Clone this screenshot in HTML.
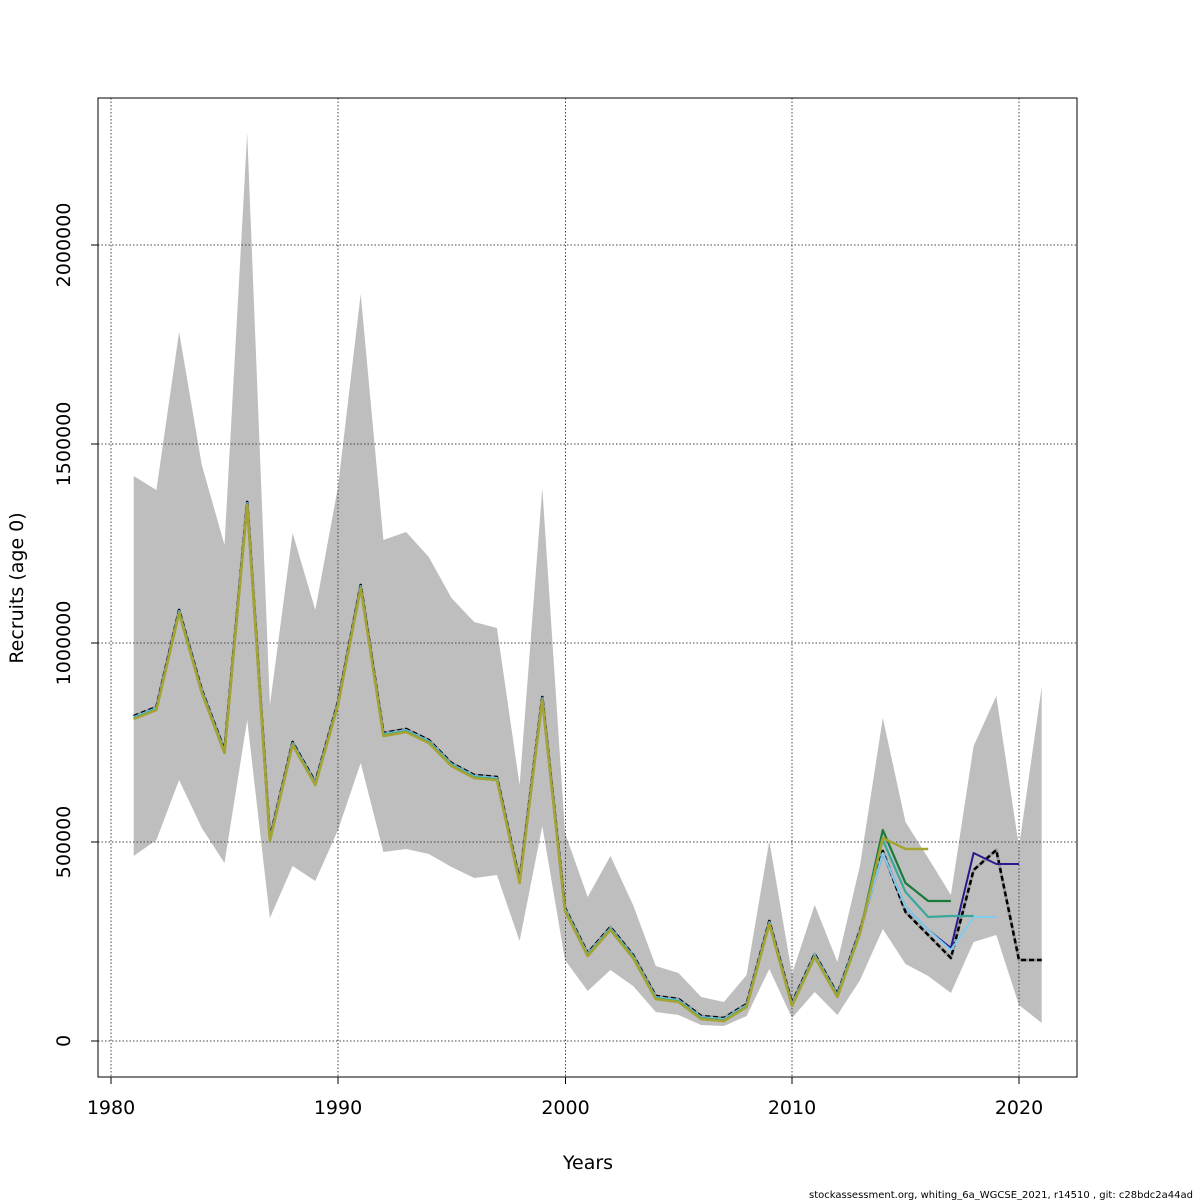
<!DOCTYPE html>
<html><head><meta charset="utf-8"><style>body{margin:0;background:#fff}svg{display:block}text{font-family:"DejaVu Sans","Liberation Sans",sans-serif}</style></head>
<body>
<svg id="s" width="1200" height="1200" xmlns="http://www.w3.org/2000/svg">
<rect width="1200" height="1200" fill="#fff"/>
<g id="band"></g>
<g stroke="#444" stroke-width="1" stroke-dasharray="1.5,2">
<line x1="111" y1="98" x2="111" y2="1077"/><line x1="338" y1="98" x2="338" y2="1077"/><line x1="565.5" y1="98" x2="565.5" y2="1077"/><line x1="792" y1="98" x2="792" y2="1077"/><line x1="1019" y1="98" x2="1019" y2="1077"/>
<line x1="98" y1="1041" x2="1077" y2="1041"/><line x1="98" y1="842" x2="1077" y2="842"/><line x1="98" y1="643" x2="1077" y2="643"/><line x1="98" y1="444" x2="1077" y2="444"/><line x1="98" y1="245" x2="1077" y2="245"/>
</g>
<g id="lines" fill="none" stroke-linejoin="round"></g>
<rect x="98" y="98" width="979" height="979" fill="none" stroke="#000"/>
<g stroke="#000">
<line x1="111" y1="1077" x2="111" y2="1084"/><line x1="338" y1="1077" x2="338" y2="1084"/><line x1="565.5" y1="1077" x2="565.5" y2="1084"/><line x1="792" y1="1077" x2="792" y2="1084"/><line x1="1019" y1="1077" x2="1019" y2="1084"/>
<line x1="98" y1="1041" x2="91" y2="1041"/><line x1="98" y1="842" x2="91" y2="842"/><line x1="98" y1="643" x2="91" y2="643"/><line x1="98" y1="444" x2="91" y2="444"/><line x1="98" y1="245" x2="91" y2="245"/>
</g>
<g font-size="19" text-anchor="middle">
<text x="111" y="1114">1980</text><text x="338" y="1114">1990</text><text x="565.5" y="1114">2000</text><text x="792" y="1114">2010</text><text x="1019" y="1114">2020</text>
<text transform="translate(70,1041) rotate(-90)">0</text>
<text transform="translate(70,842) rotate(-90)">500000</text>
<text transform="translate(70,643) rotate(-90)">1000000</text>
<text transform="translate(70,444) rotate(-90)">1500000</text>
<text transform="translate(70,245) rotate(-90)">2000000</text>
<text x="588" y="1169">Years</text>
<text transform="translate(23,588) rotate(-90)">Recruits (age 0)</text>
</g>
<text x="1193" y="1198" font-size="10" text-anchor="end">stockassessment.org, whiting_6a_WGCSE_2021, r14510 , git: c28bdc2a44ad</text>
</svg>
<script>
var X=function(y){return 111+(y-1980)*22.7};
var up=[476,490,332,465,545,133,705,533,610,487,294,540,532,557,598,622,628,785,488,833,897,856,905,966,973,997,1002,975,841,974,905,962,865,718,822,858,895,746,696,847,687];
var lo=[856,840,780,828,863,720,918,866,881,830,763,852,849,854,867,878,875,941,826,960,991,970,986,1012,1015,1025,1026,1016,969,1018,992,1015,980,929,964,976,993,942,935,1005,1023];
var p="";for(var i=0;i<41;i++)p+=(i?"L":"M")+X(1981+i)+","+up[i];
for(var i=40;i>=0;i--)p+="L"+X(1981+i)+","+lo[i];
document.getElementById("band").innerHTML='<path d="'+p+'Z" fill="#bebebe"/>';
var base=[716,707,610,690,750,502,838,742,782,702,585,733,729,740,763,775,777,880,697,908,953,927,955,996,999,1016,1018,1004,921,1003,954,994,930,851,912,935,958,870,850,960,960];
function path(arr,end){var s="";for(var i=0;i<arr.length&&1981+i<=end;i++)s+=(i?"L":"M")+X(1981+i)+","+arr[i];return s}
function mod(ov,off){var a=base.map(function(v,i){return v+(i<33?off:0)});for(var k in ov)a[k-1981]=ov[k];return a}
var L=[
["#2b1a8c",mod({2014:853,2015:907,2016:930,2017:948,2018:853,2019:864,2020:864},1),2020,2],
["#7fcdee",mod({2014:853,2015:907,2016:930,2017:950,2018:917,2019:917},1),2019,2],
["#3aa89a",mod({2014:840,2015:892,2016:917,2017:916,2018:916},2),2018,2.2],
["#1a7a3a",mod({2014:830,2015:883,2016:901,2017:901},3),2017,2.2],
["#a6a331",mod({2014:838,2015:849,2016:849},3),2016,2.5]
];
var h="";
h+='<path d="'+path(base,2021)+'" stroke="#999" stroke-width="3"/>';
h+='<path d="'+path(base,2021)+'" stroke="#000" stroke-width="2.5" stroke-dasharray="5,3"/>';
L.forEach(function(l){h+='<path d="'+path(l[1],l[2])+'" stroke="'+l[0]+'" stroke-width="'+l[3]+'"/>'});
document.getElementById("lines").innerHTML=h;
</script>
</body></html>
